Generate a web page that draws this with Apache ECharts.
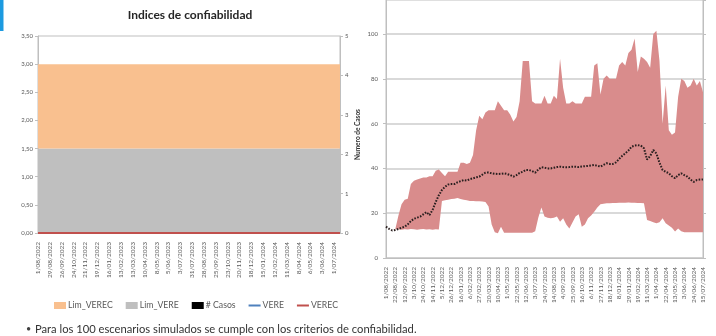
<!DOCTYPE html>
<html>
<head>
<meta charset="utf-8">
<script src="https://cdn.jsdelivr.net/npm/echarts@6/dist/echarts.min.js"></script>
<style>
  html, body { margin: 0; padding: 0; background: #ffffff; }
  #chart { width: 716px; height: 336px; }
</style>
</head>
<body>
<div id="chart"></div>
<script>
// Weekly periods (Monday of each week)
const semanas = [
  '1/08/2022','8/08/2022','15/08/2022','22/08/2022','29/08/2022','5/09/2022','12/09/2022','19/09/2022','26/09/2022',
  '3/10/2022','10/10/2022','17/10/2022','24/10/2022','31/10/2022','7/11/2022','14/11/2022','21/11/2022','28/11/2022',
  '5/12/2022','12/12/2022','19/12/2022','26/12/2022',
  '2/01/2023','9/01/2023','16/01/2023','23/01/2023','30/01/2023','6/02/2023','13/02/2023','20/02/2023','27/02/2023',
  '6/03/2023','13/03/2023','20/03/2023','27/03/2023','3/04/2023','10/04/2023','17/04/2023','24/04/2023',
  '1/05/2023','8/05/2023','15/05/2023','22/05/2023','29/05/2023','5/06/2023','12/06/2023','19/06/2023','26/06/2023',
  '3/07/2023','10/07/2023','17/07/2023','24/07/2023','31/07/2023','7/08/2023','14/08/2023','21/08/2023','28/08/2023',
  '4/09/2023','11/09/2023','18/09/2023','25/09/2023','2/10/2023','9/10/2023','16/10/2023','23/10/2023','30/10/2023',
  '6/11/2023','13/11/2023','20/11/2023','27/11/2023','4/12/2023','11/12/2023','18/12/2023','25/12/2023',
  '1/01/2024','8/01/2024','15/01/2024','22/01/2024','29/01/2024','5/02/2024','12/02/2024','19/02/2024','26/02/2024',
  '4/03/2024','11/03/2024','18/03/2024','25/03/2024','1/04/2024','8/04/2024','15/04/2024','22/04/2024','29/04/2024',
  '6/05/2024','13/05/2024','20/05/2024','27/05/2024','3/06/2024','10/06/2024','17/06/2024','24/06/2024',
  '1/07/2024','8/07/2024','15/07/2024'
];

// Reliability limits and indices (left panel)
const limVERE = [
  1.5,1.5,1.5,1.5,1.5,1.5,1.5,1.5,1.5,1.5,1.5,1.5,1.5,1.5,1.5,1.5,1.5,1.5,1.5,1.5,1.5,1.5,1.5,1.5,1.5,1.5,
  1.5,1.5,1.5,1.5,1.5,1.5,1.5,1.5,1.5,1.5,1.5,1.5,1.5,1.5,1.5,1.5,1.5,1.5,1.5,1.5,1.5,1.5,1.5,1.5,1.5,1.5,
  1.5,1.5,1.5,1.5,1.5,1.5,1.5,1.5,1.5,1.5,1.5,1.5,1.5,1.5,1.5,1.5,1.5,1.5,1.5,1.5,1.5,1.5,1.5,1.5,1.5,1.5,
  1.5,1.5,1.5,1.5,1.5,1.5,1.5,1.5,1.5,1.5,1.5,1.5,1.5,1.5,1.5,1.5,1.5,1.5,1.5,1.5,1.5,1.5,1.5,1.5,1.5
];
const limVEREC = [
  1.5,1.5,1.5,1.5,1.5,1.5,1.5,1.5,1.5,1.5,1.5,1.5,1.5,1.5,1.5,1.5,1.5,1.5,1.5,1.5,1.5,1.5,1.5,1.5,1.5,1.5,
  1.5,1.5,1.5,1.5,1.5,1.5,1.5,1.5,1.5,1.5,1.5,1.5,1.5,1.5,1.5,1.5,1.5,1.5,1.5,1.5,1.5,1.5,1.5,1.5,1.5,1.5,
  1.5,1.5,1.5,1.5,1.5,1.5,1.5,1.5,1.5,1.5,1.5,1.5,1.5,1.5,1.5,1.5,1.5,1.5,1.5,1.5,1.5,1.5,1.5,1.5,1.5,1.5,
  1.5,1.5,1.5,1.5,1.5,1.5,1.5,1.5,1.5,1.5,1.5,1.5,1.5,1.5,1.5,1.5,1.5,1.5,1.5,1.5,1.5,1.5,1.5,1.5,1.5
];
const numCasos = [
  0,0,0,0,0,0,0,0,0,0,0,0,0,0,0,0,0,0,0,0,0,0,0,0,0,0,0,0,0,0,0,0,0,0,0,0,0,0,0,0,0,0,0,0,0,0,0,0,0,0,0,0,
  0,0,0,0,0,0,0,0,0,0,0,0,0,0,0,0,0,0,0,0,0,0,0,0,0,0,0,0,0,0,0,0,0,0,0,0,0,0,0,0,0,0,0,0,0,0,0,0,0,0,0
];
const vere = [
  0,0,0,0,0,0,0,0,0,0,0,0,0,0,0,0,0,0,0,0,0,0,0,0,0,0,0,0,0,0,0,0,0,0,0,0,0,0,0,0,0,0,0,0,0,0,0,0,0,0,0,0,
  0,0,0,0,0,0,0,0,0,0,0,0,0,0,0,0,0,0,0,0,0,0,0,0,0,0,0,0,0,0,0,0,0,0,0,0,0,0,0,0,0,0,0,0,0,0,0,0,0,0,0
];
const verec = [
  0,0,0,0,0,0,0,0,0,0,0,0,0,0,0,0,0,0,0,0,0,0,0,0,0,0,0,0,0,0,0,0,0,0,0,0,0,0,0,0,0,0,0,0,0,0,0,0,0,0,0,0,
  0,0,0,0,0,0,0,0,0,0,0,0,0,0,0,0,0,0,0,0,0,0,0,0,0,0,0,0,0,0,0,0,0,0,0,0,0,0,0,0,0,0,0,0,0,0,0,0,0,0,0
];

// Simulated cases (right panel): band of scenarios and mean path
const limInferior = [
  null,null,null,12.8,12.8,12.6,12.8,12.7,12.9,12.8,12.6,12.8,12.9,12.7,12.8,12.6,12.8,12.7,
  25.5,25.8,26,26.3,26.5,26.8,26.3,26,25.8,25.5,25.5,25.3,25.3,25.2,25,23,15,11.5,11,14,11.3,
  11.3,11.3,11.3,11.3,11.3,11.3,11.3,11.3,11.3,12,18,22.5,18.5,18,17.8,18,18.5,16.2,17.7,15,13.2,
  15.8,18.5,19.5,14,15,17.7,19,20.7,22.5,24,24.2,24.4,24.5,24.6,24.6,24.7,24.7,24.7,24.8,24.7,
  24.7,24.6,24.6,24.5,17,16.5,16,15.5,16,17.7,15.5,14.5,13.5,11.8,13.2,12,11.5,11.5,11.5,11.5,
  11.5,11.5,11.5
];
const limSuperior = [
  null,null,null,13,19,24,26,26.5,33,34.5,35,35.5,36,36,36.5,36.5,39,39.5,38,36.5,38.5,38.5,
  38.5,38.5,42.5,42.5,42,42.5,46,57,63.5,62,65,66,66,66,70,68,66,66,64,61,63,70,88,88,88,70,
  69,69,69,72.5,69,69,72.5,71,89,76,69,69,70,69,69,69,72,72,72,86,87,73,80,81.5,80,80,80,86,
  87.5,86,91.5,93,98,83,90,89,87.5,85,100,101.5,88,60,77,57,55,56,72,80,79,76,77,80,77,79,74
];
const casosPromedio = [
  14,13,12.3,12.5,13,13.5,14,15,16.5,17.5,18,18.5,19.5,20.5,19.2,21.5,25,28,30.4,31.8,32.8,33,
  33,33.8,34.3,34.8,34.6,35.2,35.6,36,36.3,37.2,38.1,38.2,37.8,37.6,37.5,37.6,37.8,37.5,37,36.3,
  37,38,38.5,39.3,39.3,38.8,38.1,39.5,40.5,40.3,40,40,40.3,40.6,40.8,40.6,40.5,40.6,40.8,40.8,
  40.6,40.9,41,41.1,41.3,41.5,41.2,40.8,41.6,42.3,42,42,42.7,44.2,45.6,46.7,48,49.7,50.2,50.4,
  50.2,49,44,45.5,48.2,46.7,42.5,39.3,38.5,37.8,36.5,35.6,37,37.8,37,36.3,35,34,34.8,35,35.1
];

// Width of the band stacked on top of the lower limit
const anchoBanda = limSuperior.map((v, i) =>
  (v == null || limInferior[i] == null) ? null : +(v - limInferior[i]).toFixed(2));

const FONT = 'Lato';
const AXIS_GRAY = '#BFBFBF';
const LABEL_GRAY = '#595959';
const LINE_ICON = 'path://M0,0L12,0L12,2L0,2Z';

const chart = echarts.init(document.getElementById('chart'), null, { renderer: 'canvas' });

const option = {
  animation: false,
  backgroundColor: '#ffffff',
  textStyle: { fontFamily: FONT },
  grid: [
    { left: 38, right: 376, top: 36, bottom: 103, show: true, borderColor: AXIS_GRAY, borderWidth: 1, containLabel: false },
    { left: 386, right: 13, top: 0, bottom: 78, show: true, borderColor: AXIS_GRAY, borderWidth: 1, containLabel: false }
  ],
  legend: {
    left: 49, top: 296,
    itemWidth: 12, itemHeight: 7, itemGap: 13,
    textStyle: { fontFamily: FONT, fontSize: 8.7, color: LABEL_GRAY, padding: [0, 0, 0, -3] },
    data: [
      { name: 'Lim_VEREC', icon: 'rect' },
      { name: 'Lim_VERE', icon: 'rect' },
      { name: '# Casos', icon: 'rect' },
      { name: 'VERE', icon: LINE_ICON },
      { name: 'VEREC', icon: LINE_ICON }
    ]
  },
  xAxis: [
    {
      type: 'category', gridIndex: 0, data: semanas, boundaryGap: false,
      axisLine: { show: true, lineStyle: { color: AXIS_GRAY } },
      axisTick: { show: false },
      axisLabel: { interval: 3, rotate: 90, fontSize: 6.5, color: LABEL_GRAY, margin: 9, fontFamily: FONT },
      splitLine: { show: false }
    },
    {
      type: 'category', gridIndex: 1, data: semanas, boundaryGap: false,
      axisLine: { show: true, lineStyle: { color: AXIS_GRAY } },
      axisTick: { show: false },
      axisLabel: { interval: 2, rotate: 90, fontSize: 6.5, color: LABEL_GRAY, margin: 9, fontFamily: FONT },
      splitLine: { show: false }
    }
  ],
  yAxis: [
    {
      type: 'value', gridIndex: 0, min: 0, max: 3.5, interval: 0.5,
      axisLine: { show: true, lineStyle: { color: AXIS_GRAY } },
      axisTick: { show: true, length: 3, lineStyle: { color: AXIS_GRAY } },
      axisLabel: { fontSize: 6, color: LABEL_GRAY, margin: 5, fontFamily: FONT,
        formatter: v => v.toFixed(2).replace('.', ',') },
      splitLine: { show: false }
    },
    {
      type: 'value', gridIndex: 0, position: 'right', min: 0, max: 5, interval: 1,
      name: 'Numero de Casos', nameLocation: 'middle', nameGap: 14, nameRotate: 90,
      nameTextStyle: { fontSize: 6.5, fontWeight: 'bold', color: '#333333', fontFamily: FONT },
      axisLine: { show: true, lineStyle: { color: AXIS_GRAY } },
      axisTick: { show: true, length: 3, lineStyle: { color: AXIS_GRAY } },
      axisLabel: { fontSize: 6, color: LABEL_GRAY, margin: 5, fontFamily: FONT },
      splitLine: { show: false }
    },
    {
      type: 'value', gridIndex: 1, min: 0, max: 115.2, interval: 20,
      axisLine: { show: true, lineStyle: { color: AXIS_GRAY } },
      axisTick: { show: true, length: 3, lineStyle: { color: AXIS_GRAY } },
      axisLabel: { fontSize: 6, color: LABEL_GRAY, margin: 8, fontFamily: FONT, showMaxLabel: false,
        formatter: v => (v > 100 ? '' : String(v)) },
      splitLine: { show: true, showMaxLine: false, lineStyle: { color: '#CCCCCC', width: 1.5 } }
    },
    {
      type: 'value', gridIndex: 1, position: 'right', min: 0, max: 115.2, interval: 20,
      axisLine: { show: true, lineStyle: { color: AXIS_GRAY } },
      axisTick: { show: true, length: 3, lineStyle: { color: AXIS_GRAY } },
      axisLabel: { show: false },
      splitLine: { show: false }
    }
  ],
  series: [
    {
      name: 'Lim_VERE', type: 'line', xAxisIndex: 0, yAxisIndex: 0, stack: 'limites',
      data: limVERE, symbol: 'none', color: '#BFBFBF',
      lineStyle: { width: 0 }, areaStyle: { color: '#BFBFBF', opacity: 1 }
    },
    {
      name: 'Lim_VEREC', type: 'line', xAxisIndex: 0, yAxisIndex: 0, stack: 'limites',
      data: limVEREC, symbol: 'none', color: '#F9C08F',
      lineStyle: { width: 0 }, areaStyle: { color: '#F9C08F', opacity: 1 }
    },
    {
      name: '# Casos', type: 'bar', xAxisIndex: 0, yAxisIndex: 1,
      data: numCasos, color: '#000000', barWidth: 2
    },
    {
      name: 'VERE', type: 'line', xAxisIndex: 0, yAxisIndex: 0,
      data: vere, symbol: 'none', color: '#4F81BD', lineStyle: { width: 2, color: '#4F81BD' }
    },
    {
      name: 'VEREC', type: 'line', xAxisIndex: 0, yAxisIndex: 0,
      data: verec, symbol: 'none', color: '#C0504D', lineStyle: { width: 2, color: '#C0504D' }
    },
    {
      name: 'Mínimo escenarios', type: 'line', xAxisIndex: 1, yAxisIndex: 2, stack: 'banda',
      data: limInferior, symbol: 'none', lineStyle: { width: 0 }, silent: true
    },
    {
      name: 'Rango escenarios', type: 'line', xAxisIndex: 1, yAxisIndex: 2, stack: 'banda',
      data: anchoBanda, symbol: 'none', color: '#D98C8C',
      lineStyle: { width: 0 }, areaStyle: { color: '#D98C8C', opacity: 1 }, silent: true
    },
    {
      name: 'Promedio casos', type: 'line', xAxisIndex: 1, yAxisIndex: 2,
      data: casosPromedio, symbol: 'none', color: '#2a1f1f',
      lineStyle: { width: 2, color: '#2a1f1f', type: [1.6, 1.4] }, z: 5
    }
  ],
  graphic: [
    { type: 'rect', left: 0, top: 0, shape: { width: 3.5, height: 31 }, style: { fill: '#1C9AE0' } },
    {
      type: 'text', x: 190, y: 15,
      style: { text: 'Indices de confiabilidad', fontFamily: FONT, fontSize: 12, fontWeight: 'bold',
        fill: '#262626', align: 'center', verticalAlign: 'middle' }
    },
    {
      type: 'text', x: 26, y: 329,
      style: { text: '•', fontFamily: FONT, fontSize: 9, fill: '#404040', verticalAlign: 'middle' }
    },
    {
      type: 'text', x: 35, y: 329,
      style: { text: 'Para los 100 escenarios simulados se cumple con los criterios de confiabilidad.',
        fontFamily: FONT, fontSize: 11.2, fill: '#333333', verticalAlign: 'middle' }
    }
  ]
};

chart.setOption(option);
</script>
</body>
</html>
